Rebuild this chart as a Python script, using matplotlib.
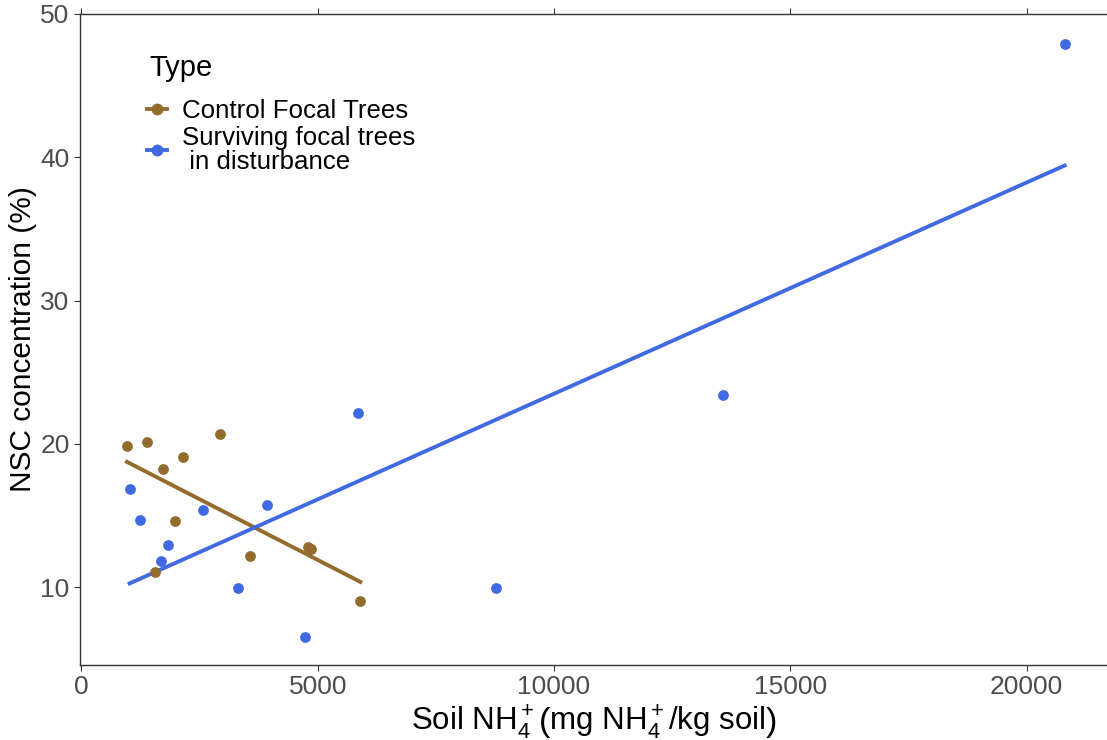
import matplotlib.pyplot as plt
import numpy as np

plt.rcParams["font.family"] = ["Liberation Sans", "DejaVu Sans"]
plt.rcParams["mathtext.fontset"] = "custom"
plt.rcParams["mathtext.rm"] = "Liberation Sans"
plt.rcParams["mathtext.it"] = "Liberation Sans:italic"

# Control focal trees
ctrl_x = [964, 1386, 1715, 2152, 2932, 1989, 1546, 3559, 4795, 4867, 5901]
ctrl_y = [19.84, 20.12, 18.22, 19.05, 20.66, 14.61, 11.03, 12.19, 12.77, 12.63, 9.0]

# Surviving focal trees in disturbance
surv_x = [1019, 1230, 1829, 1673, 2574, 3930, 3318, 4732, 5844, 8776, 13565, 20802]
surv_y = [16.82, 14.70, 12.91, 11.84, 15.35, 15.70, 9.95, 6.51, 22.15, 9.93, 23.40, 47.9]

brown = "#926B2D"
blue = "#4169E1"

fig = plt.figure(figsize=(11.07, 7.4), dpi=100)
ax = fig.add_axes([0.0723, 0.1014, 0.9277, 0.8797])

for xs, ys, col, lab in [(ctrl_x, ctrl_y, brown, "Control Focal Trees"),
                         (surv_x, surv_y, blue, "Surviving focal trees\n in disturbance")]:
    xs = np.array(xs)
    ys = np.array(ys)
    m, b = np.polyfit(xs, ys, 1)
    xx = np.array([xs.min(), xs.max()])
    ax.plot(xx, m * xx + b, color=col, lw=2.8, zorder=2)
    ax.scatter(xs, ys, s=60, color=col, zorder=3, linewidths=0)
    ax.plot([], [], color=col, lw=2.8, marker="o", markersize=7.5, label=lab)

ax.set_xlim(-30, 21700)
ax.set_ylim(4.56, 50)
ax.set_xticks([0, 5000, 10000, 15000, 20000])
ax.set_yticks([10, 20, 30, 40, 50])

for s in ["left", "bottom", "top"]:
    ax.spines[s].set_color("#333333")
    ax.spines[s].set_linewidth(1.0)
ax.spines["right"].set_visible(False)
ax.tick_params(axis="both", labelsize=19, labelcolor="#4D4D4D", color="#333333",
               length=4, width=0.8)
ax.tick_params(axis="x", top=True)

ax.set_xlabel(r"Soil NH$_4^+$$\left(\mathrm{mg\ NH_4^+/kg\ soil}\right)$", fontsize=22.5, labelpad=3)
ax.set_ylabel("NSC concentration (%)", fontsize=21.5, labelpad=2)

ax.text(0.068, 0.917, "Type", transform=ax.transAxes, fontsize=21, va="center", ha="left")
leg = ax.legend(loc="upper left", bbox_to_anchor=(0.065, 0.869), frameon=False,
                fontsize=18.6, handlelength=0.8, handletextpad=0.55,
                labelspacing=0.1, borderaxespad=0, borderpad=0)
for t in leg.get_texts():
    t.set_linespacing(1.0)

fig.savefig("out.png", dpi=100)
